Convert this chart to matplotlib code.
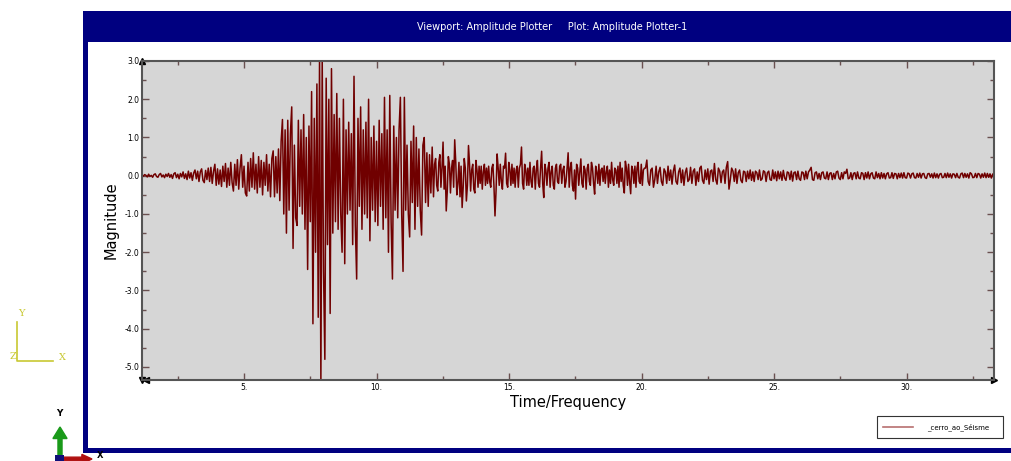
import numpy as np
import matplotlib
matplotlib.use("Agg")
import matplotlib.pyplot as plt
from matplotlib.patches import Rectangle, FancyArrow
from matplotlib.lines import Line2D

# seismogram, split into chunks with their own sample step
t_start = [1.15, 5.15, 12.15, 20.15]
t_step = [0.05, 0.05, 0.04, 0.05]

amp_pre = [0.02, -0.01, 0.03, 0.01, -0.03, 0.04, -0.02, 0.01, -0.04, 0.03,
           0.05, -0.02, -0.04, 0.03, 0.06, -0.03, 0.02, -0.05, 0.04, -0.02,
           0.06, -0.04, 0.03, -0.07, 0.05, 0.08, -0.05, 0.04, -0.08, 0.06,
           -0.03, 0.10, -0.07, 0.05, -0.10, 0.12, -0.06, 0.08, -0.12, 0.07,
           0.15, -0.08, 0.12, -0.15, 0.10, 0.18, -0.12, -0.18, 0.14, -0.10,
           0.20, -0.15, 0.22, -0.20, 0.12, 0.30, -0.25, 0.18, -0.22, 0.15,
           -0.28, 0.25, -0.15, 0.32, -0.30, 0.20, -0.25, 0.35, -0.18, -0.40,
           0.30, -0.25, 0.42, -0.35, 0.20, 0.55, -0.30, 0.25, -0.45, -0.53]

amp_main = [0.35, -0.40, 0.45, -0.30, 0.60, -0.35, 0.30, -0.45, 0.50, -0.30,
            0.40, -0.50, 0.35, -0.25, 0.55, -0.40, 0.30, -0.55, 0.45, 0.65,
            -0.55, 0.50, -0.45, 0.70, -0.65, 0.90, 1.47, -1.00, 1.20, -1.50,
            1.45, -0.90, 1.10, 1.80, -1.90, 0.80, -1.10, -1.30, 1.45, -0.80,
            1.20, -1.00, 1.60, -1.40, 1.00, -2.45, 1.30, -1.20, 2.20, -3.87,
            1.50, -2.00, 2.40, -3.70, 3.10, -5.40, 3.10, -2.50, -4.80, 2.55,
            -1.80, 2.00, -3.60, 2.80, -1.50, 1.60, -1.20, 2.15, -1.40, 1.50,
            -1.00, -2.00, 2.00, -2.30, 1.20, -1.00, 1.40, -0.90, 1.10, -1.80,
            2.60, -1.30, -2.70, 1.50, -0.80, 1.80, -1.40, 1.20, -1.00, 1.40,
            -1.10, 2.00, -1.70, 1.00, -0.90, 1.30, -1.20, 0.90, -1.30, 1.45,
            -0.80, 1.10, -1.40, 2.05, -1.10, 1.20, -2.00, 2.10, -1.20, -2.70,
            1.30, -0.90, 1.00, -1.10, 1.20, 2.05, -1.00, -2.50, 2.05, -0.90,
            0.80, -1.00, -1.60, 0.90, -0.70, 1.30, -1.40, 1.00, -0.80, 0.70,
            -0.90, -1.55, 0.80, 1.00, -0.70, 0.60, -0.80, 0.55, -0.45, 0.75]

amp_coda = [-0.55, 0.30, 0.45, -0.25, -0.40, 0.35, 0.55, -0.30, 0.20, 0.88,
            -0.35, 0.25, -0.92, -0.40, 0.50, 0.30, -0.45, 0.20, 0.40, -0.30,
            0.94, 0.35, -0.50, -0.20, 0.35, -0.55, 0.25, -0.83, -0.30, 0.45,
            0.20, -0.66, -0.25, 0.79, 0.30, -0.40, 0.15, 0.30, -0.35, -0.45,
            0.40, 0.15, -0.30, 0.25, -0.20, 0.25, -0.35, 0.10, 0.30, -0.25,
            0.20, -0.20, 0.25, -0.15, -0.30, 0.20, 0.30, -0.25, -1.05, -0.40,
            0.57, 0.20, -0.25, 0.30, -0.15, -0.35, 0.25, 0.20, 0.59, -0.20,
            -0.30, 0.35, 0.15, -0.25, 0.30, -0.20, 0.20, -0.30, 0.15, 0.25,
            -0.30, 0.20, 0.30, 0.75, -0.20, -0.35, 0.30, 0.15, -0.25, 0.20,
            -0.25, 0.35, -0.15, -0.30, 0.20, 0.25, -0.35, 0.15, 0.40, -0.20,
            -0.30, 0.20, 0.64, -0.20, -0.57, 0.30, 0.15, -0.25, 0.20, 0.35,
            -0.30, 0.10, 0.25, -0.25, -0.35, 0.20, 0.30, -0.15, -0.20, 0.25,
            0.30, -0.20, 0.15, 0.25, -0.30, -0.15, 0.20, 0.60, -0.30, 0.20,
            0.35, -0.25, -0.40, 0.15, -0.61, 0.30, 0.20, -0.25, 0.10, 0.44,
            -0.20, -0.30, 0.25, 0.15, -0.35, 0.20, 0.30, -0.15, -0.25, 0.35,
            0.20, -0.20, -0.48, 0.25, 0.10, -0.20, 0.30, -0.25, 0.15, 0.20,
            -0.15, 0.26, -0.20, 0.10, 0.25, -0.30, 0.15, -0.20, 0.35, -0.10,
            -0.25, 0.20, 0.15, -0.20, 0.25, -0.30, 0.35, -0.15, 0.20, -0.25,
            -0.45, 0.38, 0.20, -0.25, 0.30, -0.15, -0.47, 0.25, 0.15, -0.20,
            0.25, -0.30, 0.20, 0.35, -0.15, -0.20, 0.30, -0.25, 0.15, 0.20]

amp_tail = [0.20, 0.41, -0.15, -0.25, 0.15, 0.20, -0.30, -0.10, 0.25, -0.20,
            0.10, 0.22, -0.15, -0.25, 0.18, 0.10, -0.20, 0.25, -0.12, 0.15,
            -0.22, 0.12, 0.28, -0.15, -0.22, 0.10, 0.20, -0.18, 0.15, -0.25,
            0.08, 0.20, -0.15, -0.10, 0.22, -0.20, 0.12, 0.18, -0.25, 0.10,
            -0.15, 0.20, 0.25, -0.12, -0.20, 0.15, -0.10, 0.18, -0.22, 0.12,
            0.15, -0.15, 0.32, -0.10, -0.22, 0.20, 0.12, -0.18, 0.10, 0.15,
            -0.20, 0.22, 0.37, -0.35, -0.10, 0.20, 0.12, -0.15, 0.18, -0.20,
            0.08, 0.15, -0.12, -0.18, 0.12, 0.10, -0.15, 0.12, -0.08, 0.15,
            -0.12, 0.10, -0.15, 0.12, 0.08, -0.10, 0.15, -0.12, -0.08, 0.13,
            0.10, -0.15, 0.08, 0.12, -0.10, -0.12, 0.15, -0.08, 0.10, -0.13,
            0.12, -0.08, 0.10, -0.12, 0.14, -0.06, -0.12, 0.10, 0.08, -0.10,
            0.12, -0.14, 0.08, 0.10, -0.10, 0.12, -0.08, -0.12, 0.10, 0.08,
            -0.10, 0.12, -0.08, 0.10, 0.15, 0.22, -0.10, -0.12, 0.08, 0.10,
            -0.08, 0.06, -0.10, 0.08, 0.10, -0.06, -0.08, 0.10, -0.10, 0.06,
            0.08, -0.10, 0.06, -0.08, 0.10, 0.12, -0.06, -0.10, 0.08, -0.08,
            0.10, 0.06, 0.17, -0.08, -0.06, 0.08, -0.10, 0.06, 0.08, -0.08,
            0.10, -0.06, -0.08, 0.08, 0.06, -0.10, 0.08, -0.06, 0.10, -0.08,
            0.05, 0.08, -0.06, -0.08, 0.10, -0.05, 0.06, -0.08, 0.08, -0.06,
            0.06, -0.08, 0.05, 0.08, -0.06, -0.05, 0.08, -0.07, 0.06, 0.05,
            -0.08, 0.06, -0.05, 0.07, -0.06, 0.08, -0.05, -0.06, 0.07, 0.05,
            -0.06, 0.05, 0.07, -0.05, -0.06, 0.06, -0.04, 0.07, -0.06, 0.05,
            0.06, -0.05, -0.07, 0.05, 0.06, -0.04, 0.05, -0.06, 0.07, -0.05,
            0.05, -0.06, 0.04, 0.06, -0.05, -0.04, 0.06, -0.05, 0.07, -0.04,
            0.05, -0.06, 0.05, 0.04, -0.05, 0.06, -0.04, -0.06, 0.05, 0.07,
            -0.05, 0.06, -0.04, 0.05, -0.06, 0.08, 0.05, -0.05, -0.04, 0.06,
            -0.05, 0.06, 0.04, -0.06, 0.05, -0.04, 0.07, -0.05, 0.06, -0.04,
            0.05, -0.06, 0.04]

x_ticks = [5, 10, 15, 20, 25, 30]
x_ticklabels = ["5.", "10.", "15.", "20.", "25.", "30."]
y_ticks = [3.0, 2.0, 1.0, 0.0, -1.0, -2.0, -3.0, -4.0, -5.0]

title_text = "Viewport: Amplitude Plotter     Plot: Amplitude Plotter-1"
series_name = "_cerro_ao_Séisme"

chunks = [amp_pre, amp_main, amp_coda, amp_tail]
t = np.concatenate([s + d * np.arange(len(a)) for s, d, a in zip(t_start, t_step, chunks)])
amp = np.concatenate(chunks)

W, H = 1011, 461
fig = plt.figure(figsize=(W / 100, H / 100), dpi=100)
fig.patch.set_facecolor("white")

def fx(px):
    return px / W

def fy(py):
    return 1 - py / H

navy = "#000080"
# viewport frame
fig.add_artist(Rectangle((fx(83), fy(453)), fx(W) - fx(83), fy(11) - fy(453),
                         transform=fig.transFigure, facecolor=navy, edgecolor="none", zorder=0))
fig.add_artist(Rectangle((fx(88), fy(448)), fx(W) - fx(88), fy(42) - fy(448),
                         transform=fig.transFigure, facecolor="white", edgecolor="none", zorder=0))
fig.text(fx(552), fy(27), title_text, color="white", fontsize=7, ha="center", va="center")

ax = fig.add_axes([fx(142), fy(380), fx(994) - fx(142), fy(61) - fy(380)])
ax.set_facecolor("#d6d6d6")
ax.plot(t, amp, color="#700000", lw=1.1)

ax.set_xlim(1.15, 33.3)
ax.set_ylim(-5.34, 3.0)
ax.set_xticks(x_ticks)
ax.set_xticklabels(x_ticklabels)
ax.set_yticks(y_ticks)
ax.set_yticklabels(["%.1f" % v for v in y_ticks])
ax.set_xticks(np.arange(2.5, 33.3, 2.5), minor=True)
ax.set_yticks(np.arange(-5.0, 3.0, 0.5), minor=True)
ax.tick_params(which="both", direction="in", top=True, right=True, labelsize=5.5,
               color="#6a5050", width=1.0)
ax.tick_params(which="major", length=5, pad=2)
ax.tick_params(which="minor", length=3)
for s in ax.spines.values():
    s.set_color("#555555")
    s.set_linewidth(1.5)

ax.set_xlabel("Time/Frequency", fontsize=10.5, labelpad=2)
ax.set_ylabel("Magnitude", fontsize=10.5, labelpad=4)

# little arrowheads at the axis ends
ax.plot([1.15], [3.0], marker="^", ms=4, color="black", clip_on=False)
ax.plot([1.15], [-5.34], marker="v", ms=4, color="black", clip_on=False)
ax.plot([1.3], [-5.34], marker="<", ms=4, color="black", clip_on=False)
ax.plot([33.3], [-5.34], marker=">", ms=4, color="black", clip_on=False)

# legend box
fig.add_artist(Rectangle((fx(877), fy(438)), fx(1003) - fx(877), fy(416) - fy(438),
                         transform=fig.transFigure, facecolor="white", edgecolor="#333333",
                         lw=0.8, zorder=3))
fig.add_artist(Line2D([fx(883), fx(913)], [fy(427), fy(427)], color="#b87070", lw=1.2,
                      transform=fig.transFigure, zorder=4))
fig.text(fx(927), fy(427), series_name, fontsize=5, va="center", ha="left", zorder=5)

# view triad (yellow)
yel = "#c8c832"
fig.add_artist(Line2D([fx(17), fx(17), fx(53)], [fy(322), fy(361), fy(361)], color=yel,
                      lw=1.2, transform=fig.transFigure))
fig.text(fx(21), fy(314), "Y", color=yel, fontsize=7, ha="center", va="center", family="DejaVu Serif")
fig.text(fx(13), fy(356), "Z", color=yel, fontsize=7, ha="center", va="center", family="DejaVu Serif")
fig.text(fx(62), fy(357), "X", color=yel, fontsize=7, ha="center", va="center", family="DejaVu Serif")

# global triad
fig.text(fx(59), fy(413), "Y", color="black", fontsize=6.5, ha="center", va="center", weight="bold")
fig.add_artist(FancyArrow(fx(60), fy(461), 0, fy(427) - fy(461), width=0.004, head_width=0.014,
                          head_length=0.025, length_includes_head=True, color="#1a9a1a",
                          transform=fig.transFigure))
fig.add_artist(FancyArrow(fx(58), fy(459), fx(92) - fx(58), 0, width=0.008, head_width=0.02,
                          head_length=0.01, length_includes_head=True, color="#b01010",
                          transform=fig.transFigure))
fig.add_artist(Rectangle((fx(55), fy(461)), fx(64) - fx(55), fy(455) - fy(461),
                         transform=fig.transFigure, facecolor="#10107a", edgecolor="none"))
fig.text(fx(100), fy(455), "X", color="black", fontsize=6, ha="center", va="center", weight="bold")

fig.savefig("out.png", dpi=100)
